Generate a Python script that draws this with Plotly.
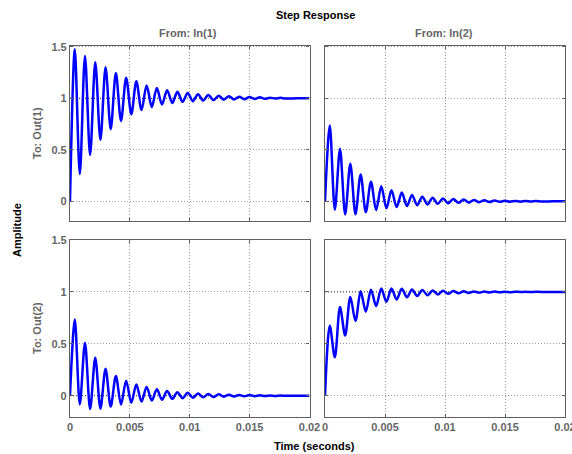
import plotly.graph_objects as go

# ---- data (extrema of the step responses) ----
time_s = [0, 0.00040, 0.00082, 0.00125, 0.00168, 0.00211, 0.00254, 0.00297, 0.00340,
          0.00383, 0.00426, 0.00469, 0.00512, 0.00554, 0.00597, 0.00640, 0.00683,
          0.00725, 0.00768, 0.00811, 0.00854, 0.00897, 0.00940, 0.00983, 0.01026,
          0.01069, 0.01112, 0.01155, 0.01198, 0.01241, 0.01284, 0.01327, 0.01370,
          0.01413, 0.01456, 0.01499, 0.01542, 0.01585, 0.01628, 0.01671, 0.01714,
          0.01757, 0.01800, 0.01900, 0.02000]

in1_out1 = [0, 1.475, 0.265, 1.41, 0.45, 1.35, 0.595, 1.30, 0.70, 1.245, 0.78, 1.20,
            0.845, 1.165, 0.885, 1.125, 0.915, 1.10, 0.94, 1.078, 0.955, 1.062, 0.965,
            1.05, 0.972, 1.04, 0.978, 1.032, 0.982, 1.025, 0.986, 1.02, 0.989, 1.015,
            0.991, 1.012, 0.993, 1.009, 0.995, 1.006, 0.997, 1.004, 0.998, 1.0, 1.0]

in2_out1 = [0, 0.735, -0.082, 0.51, -0.127, 0.365, -0.125, 0.26, -0.105, 0.19, -0.085,
            0.145, -0.068, 0.108, -0.056, 0.085, -0.046, 0.062, -0.038, 0.045, -0.03,
            0.034, -0.024, 0.028, -0.019, 0.022, -0.015, 0.017, -0.012, 0.013, -0.009,
            0.01, -0.007, 0.008, -0.005, 0.006, -0.004, 0.004, -0.003, 0.003, -0.002,
            0.002, -0.001, 0.0, 0.0]

in1_out2 = [0, 0.735, -0.082, 0.51, -0.127, 0.365, -0.125, 0.26, -0.105, 0.19, -0.085,
            0.145, -0.068, 0.108, -0.056, 0.085, -0.046, 0.062, -0.038, 0.045, -0.03,
            0.034, -0.024, 0.028, -0.019, 0.022, -0.015, 0.017, -0.012, 0.013, -0.009,
            0.01, -0.007, 0.008, -0.005, 0.006, -0.004, 0.004, -0.003, 0.003, -0.002,
            0.002, -0.001, 0.0, 0.0]

in2_out2 = [0, 0.673, 0.37, 0.855, 0.58, 0.95, 0.72, 1.006, 0.81, 1.022, 0.865, 1.032,
            0.905, 1.032, 0.927, 1.03, 0.948, 1.024, 0.96, 1.018, 0.968, 1.014, 0.976,
            1.011, 0.982, 1.008, 0.987, 1.006, 0.99, 1.005, 0.993, 1.004, 0.995, 1.003,
            0.997, 1.002, 0.998, 1.002, 0.999, 1.001, 0.999, 1.001, 1.0, 1.0, 1.0]

steady_state = {"11": 1.0, "12": 0.0, "21": 0.0, "22": 1.0}

x_ticks = [0, 0.005, 0.01, 0.015, 0.02]
x_tick_labels = ["0", "0.005", "0.01", "0.015", "0.02"]
y_ticks = [0, 0.5, 1, 1.5]
y_tick_labels = ["0", "0.5", "1", "1.5"]

# ---- layout geometry (screen pixels) ----
W, H = 572, 454
def fx(p): return p / W
def fy(p): return 1 - p / H

cols = [(70, 309.5), (325, 565)]
rows = [(45.5, 221), (239.5, 417)]
yranges = [[-0.191, 1.512], [-0.205, 1.505]]

FONT = "Liberation Sans, Arial, Helvetica, sans-serif"
AX_COLOR = "#606060"
TXT_GRAY = "#666666"
GRID = "#9a9a9a"

fig = go.Figure()
series = {(0, 0): in1_out1, (0, 1): in2_out1, (1, 0): in1_out2, (1, 1): in2_out2}
ss_keys = {(0, 0): "11", (0, 1): "12", (1, 0): "21", (1, 1): "22"}

layout = dict(
    width=W, height=H, autosize=False,
    margin=dict(l=0, r=0, t=0, b=0, pad=0),
    paper_bgcolor="white", plot_bgcolor="white",
    showlegend=False,
)

idx = 0
for r in range(2):
    for c in range(2):
        idx += 1
        xa = "xaxis" if idx == 1 else f"xaxis{idx}"
        ya = "yaxis" if idx == 1 else f"yaxis{idx}"
        xr = "x" if idx == 1 else f"x{idx}"
        yr = "y" if idx == 1 else f"y{idx}"
        layout[xa] = dict(
            domain=[fx(cols[c][0]), fx(cols[c][1])], anchor=yr, range=[0, 0.02],
            automargin=False, ticklabeloverflow="allow",
            tickvals=x_ticks, ticktext=x_tick_labels, showticklabels=(r == 1),
            ticks="inside", ticklen=3, tickcolor=AX_COLOR,
            showline=True, linecolor=AX_COLOR, linewidth=1.2, mirror="ticks",
            showgrid=True, gridcolor=GRID, griddash="1px,2px", gridwidth=1,
            zeroline=False,
            tickfont=dict(family=FONT, size=11, color=TXT_GRAY, weight="bold"),
        )
        layout[ya] = dict(
            domain=[fy(rows[r][1]), fy(rows[r][0])], anchor=xr, range=yranges[r],
            automargin=False, ticklabeloverflow="allow",
            tickvals=y_ticks, ticktext=y_tick_labels, showticklabels=(c == 0),
            ticks="inside", ticklen=3, tickcolor=AX_COLOR,
            showline=True, linecolor=AX_COLOR, linewidth=1.2, mirror="ticks",
            showgrid=True, gridcolor=GRID, griddash="1px,2px", gridwidth=1,
            zeroline=False,
            tickfont=dict(family=FONT, size=11, color=TXT_GRAY, weight="bold"),
        )
        ss = steady_state[ss_keys[(r, c)]]
        fig.add_trace(go.Scatter(
            x=[time_s[0], time_s[-1]], y=[ss, ss], mode="lines",
            line=dict(color="#404040", width=1, dash="1px,2px"),
            xaxis=xr, yaxis=yr, hoverinfo="skip"))
        fig.add_trace(go.Scatter(
            x=time_s, y=series[(r, c)], mode="lines",
            line=dict(color="#0000ff", width=2.5, shape="spline", smoothing=0.9),
            xaxis=xr, yaxis=yr))

ann = []
def text(x, y, s, color="black", angle=0, size=11):
    ann.append(dict(x=fx(x), y=fy(y), xref="paper", yref="paper", text=s,
                    showarrow=False, textangle=angle, xanchor="center", yanchor="middle",
                    font=dict(family=FONT, size=size, color=color, weight="bold")))

text(315, 15.5, "Step Response")
text(187.5, 33, "From: In(1)", TXT_GRAY)
text(443.5, 33, "From: In(2)", TXT_GRAY)
text(37, 133, "To: Out(1)", TXT_GRAY, -90)
text(37, 328, "To: Out(2)", TXT_GRAY, -90)
text(17, 230, "Amplitude", "black", -90)
text(314, 446, "Time (seconds)")
layout["annotations"] = ann

fig.update_layout(**layout)
fig.write_html(
    "out.html",
    config={"displayModeBar": False},
    post_script="document.body.style.margin='0';document.body.style.overflow='hidden';",
)
